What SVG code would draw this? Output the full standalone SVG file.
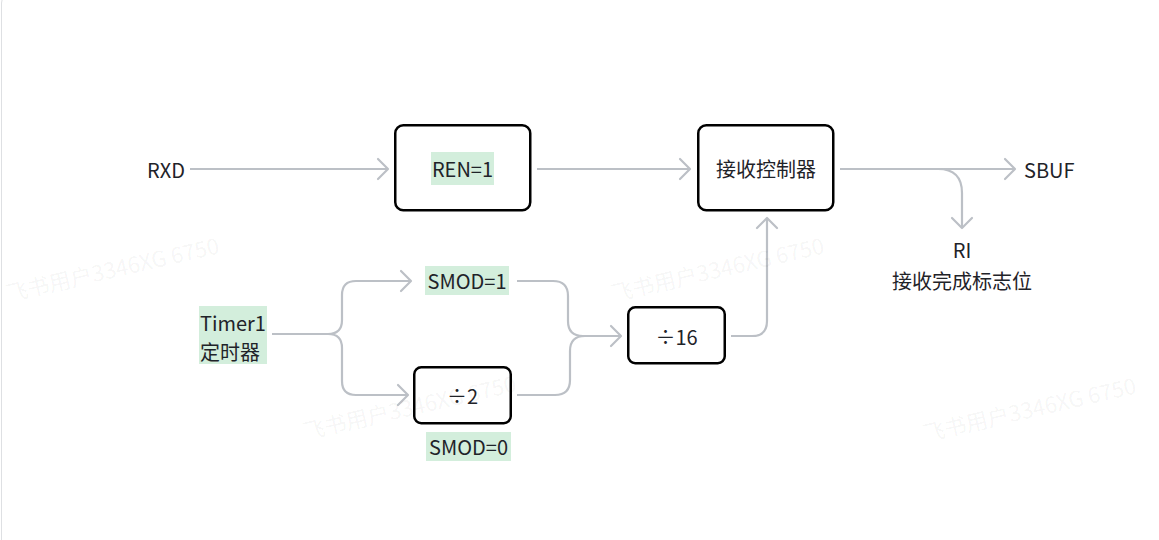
<svg xmlns="http://www.w3.org/2000/svg" width="1159" height="540" viewBox="0 0 1159 540">
<style>
.t{font-family:"Noto Sans CJK SC","Noto Sans",sans-serif;font-size:20px;fill:#1f2329;}
.box{fill:#fff;stroke:#000;stroke-width:2.5;}
.hl{fill:#d3eedc;}
.c{fill:none;stroke:#bcc0c6;stroke-width:2.2;}
.wm{font-family:"Noto Sans CJK SC","Noto Sans",sans-serif;font-size:22px;fill:#000;fill-opacity:0.05;}
</style>
<defs>
<marker id="ah" viewBox="-12 -12 14 24" markerWidth="14" markerHeight="24" refX="0" refY="0" orient="auto" markerUnits="userSpaceOnUse">
<path d="M-10,-10 L0,0 L-10,10" fill="none" stroke="#bcc0c6" stroke-width="2.2" stroke-linecap="round" stroke-linejoin="round"/>
</marker>
</defs>
<rect x="0" y="0" width="1159" height="540" fill="#fff"/>
<rect x="1.5" y="-6" width="1200" height="600" rx="9" fill="none" stroke="#dee0e3" stroke-width="1"/>

<g id="connectors">
<path class="c" d="M190,169 H388" marker-end="url(#ah)"/>
<path class="c" d="M537,169 H690" marker-end="url(#ah)"/>
<path class="c" d="M840,169 H1015" marker-end="url(#ah)"/>
<path class="c" d="M938,169 Q962,169 962,193 V228" marker-end="url(#ah)"/>
<path class="c" d="M272,334 H328 Q342,334 342,320 V295 Q342,281 356,281 H411" marker-end="url(#ah)"/>
<path class="c" d="M272,334 H328 Q342,334 342,348 V381 Q342,395 356,395 H408" marker-end="url(#ah)"/>
<path class="c" d="M517,281 H553 Q568,281 568,296 V321 Q568,336 583,336 H621" marker-end="url(#ah)"/>
<path class="c" d="M517,395 H555 Q570,395 570,380 V351 Q570,336 585,336 H621"/>
<path class="c" d="M731,336 H752 Q767,336 767,321 V218" marker-end="url(#ah)"/>
</g>

<g id="RXD"><text class="t" x="166" y="169" text-anchor="middle" dominant-baseline="central">RXD</text></g>
<g id="REN">
<rect class="box" x="395.25" y="125.25" width="135" height="85" rx="8"/>
<rect class="hl" x="431" y="152" width="63" height="33"/>
<text class="t" x="462.5" y="168.5" text-anchor="middle" dominant-baseline="central">REN=1</text>
</g>
<g id="ctrl">
<rect class="box" x="698.25" y="125.25" width="135" height="85" rx="8"/>
<text class="t" x="766" y="168.5" text-anchor="middle" dominant-baseline="central">接收控制器</text>
</g>
<g id="SBUF"><text class="t" x="1024" y="169" dominant-baseline="central">SBUF</text></g>
<g id="RI">
<text class="t" x="962" y="249" text-anchor="middle" dominant-baseline="central">RI</text>
<text class="t" x="962" y="280" text-anchor="middle" dominant-baseline="central">接收完成标志位</text>
</g>
<g id="timer">
<rect class="hl" x="199" y="306" width="68" height="58"/>
<text class="t" x="200" y="322" dominant-baseline="central">Timer1</text>
<text class="t" x="200" y="351" dominant-baseline="central">定时器</text>
</g>
<g id="smod1">
<rect class="hl" x="425" y="266" width="84" height="29"/>
<text class="t" x="467" y="280.5" text-anchor="middle" dominant-baseline="central">SMOD=1</text>
</g>
<g id="div2">
<rect class="box" x="414.25" y="367.25" width="96.5" height="56" rx="7"/>
<text class="t" x="462.5" y="395" text-anchor="middle" dominant-baseline="central">÷2</text>
</g>
<g id="smod0">
<rect class="hl" x="426" y="432" width="85" height="29"/>
<text class="t" x="468.5" y="446.5" text-anchor="middle" dominant-baseline="central">SMOD=0</text>
</g>
<g id="div16">
<rect class="box" x="628.25" y="307.25" width="96.5" height="56" rx="7"/>
<text class="t" x="676.5" y="336" text-anchor="middle" dominant-baseline="central">÷16</text>
</g>

<g id="watermarks">
<text class="wm" x="8" y="302" transform="rotate(-13 8 302)">飞书用户3346XG 6750</text>
<text class="wm" x="613" y="302" transform="rotate(-13 613 302)">飞书用户3346XG 6750</text>
<text class="wm" x="305" y="440" transform="rotate(-13 305 440)">飞书用户3346XG 6750</text>
<text class="wm" x="925" y="442" transform="rotate(-13 925 442)">飞书用户3346XG 6750</text>
</g>
</svg>
